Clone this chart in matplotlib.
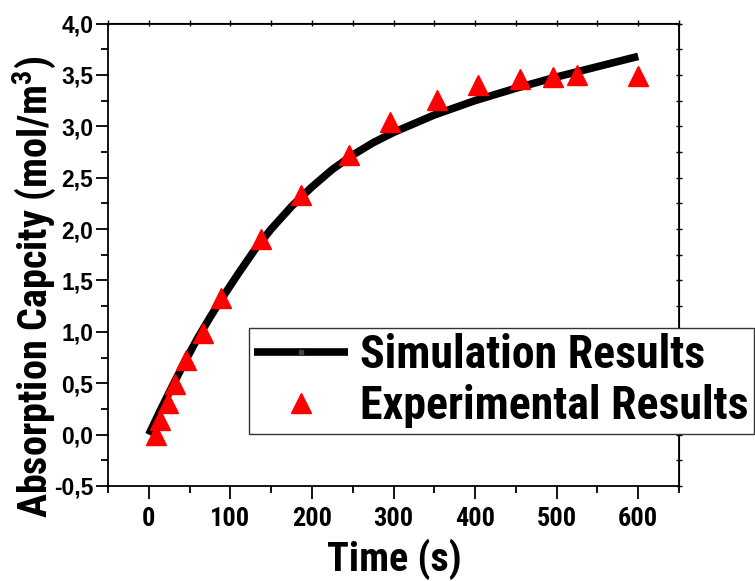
import matplotlib
matplotlib.use('Agg')
import matplotlib.pyplot as plt
from matplotlib.ticker import MultipleLocator, FuncFormatter, FixedLocator
from matplotlib.lines import Line2D

# ---- data ----
sim_t = [0, 15, 30, 45, 60, 75, 90, 110, 130, 150, 175, 200, 225, 250,
         275, 300, 350, 400, 450, 500, 550, 600]
sim_v = [0.00, 0.25, 0.49, 0.72, 0.94, 1.14, 1.33, 1.57, 1.80, 2.00, 2.22,
         2.41, 2.58, 2.72, 2.84, 2.94, 3.11, 3.25, 3.37, 3.48, 3.58, 3.68]

exp_t = [8.6, 14.3, 23.3, 31.9, 46, 66, 89, 137, 186, 245, 296, 353, 404,
         455, 495, 525, 600]
exp_v = [0.00, 0.14, 0.31, 0.49, 0.73, 0.99, 1.33, 1.90, 2.33, 2.72, 3.04,
         3.26, 3.40, 3.46, 3.48, 3.50, 3.49]

x_ticks = [0, 100, 200, 300, 400, 500, 600]
y_ticks = [-0.5, 0.0, 0.5, 1.0, 1.5, 2.0, 2.5, 3.0, 3.5, 4.0]

sim_label = "Simulation Results"
exp_label = "Experimental Results"
x_label = "Time (s)"
y_label = "Absorption Capcity (mol/m$^3$)"

# ---- style ----
FAM = ['Roboto Condensed', 'Liberation Sans', 'DejaVu Sans']
plt.rcParams['font.family'] = FAM
plt.rcParams['font.weight'] = 'bold'
plt.rcParams['mathtext.default'] = 'regular'

W, H = 755, 581
fig = plt.figure(figsize=(W / 100, H / 100), dpi=100)
L, R, T, B = 108, 679, 23.5, 486
ax = fig.add_axes([L / W, 1 - B / H, (R - L) / W, (B - T) / H])

ax.plot(sim_t, sim_v, color='black', lw=5.5, solid_capstyle='butt',
        solid_joinstyle='round', zorder=3)
ax.plot(exp_t, exp_v, linestyle='none', marker='^', ms=15, color='#ff0000',
        mec='#ff0000', zorder=4)

ax.set_xlim(-50, 650)
ax.set_ylim(-0.5, 4.0)
ax.xaxis.set_major_locator(FixedLocator(x_ticks))
ax.xaxis.set_minor_locator(MultipleLocator(50))
ax.yaxis.set_major_locator(FixedLocator(y_ticks))
ax.yaxis.set_minor_locator(MultipleLocator(0.25))
ax.yaxis.set_major_formatter(FuncFormatter(lambda v, p: f"{v:.1f}".replace('.', ',')))
ax.xaxis.set_major_formatter(FuncFormatter(lambda v, p: f"{v:.0f}"))

for s in ax.spines.values():
    s.set_linewidth(1.3)

ax.tick_params(which='major', direction='out', length=9, width=1.3,
               top=False, right=False)
ax.tick_params(which='minor', direction='out', length=5, width=1.3,
               top=False, right=False)
ax.tick_params(axis='x', which='major', labelsize=19, pad=6)
ax.tick_params(axis='y', which='major', labelsize=16.5, pad=1.5,
               labelfontfamily='Liberation Sans')

# top / right small ticks
sx = ax.secondary_xaxis('top')
sx.xaxis.set_major_locator(MultipleLocator(50))
sx.tick_params(direction='inout', length=5, width=1.0, labeltop=False)
sy = ax.secondary_yaxis('right')
sy.yaxis.set_major_locator(MultipleLocator(0.25))
sy.tick_params(direction='inout', length=5, width=1.0, labelright=False)

fig.text(394 / W, 1 - 571 / H, x_label, ha='center', va='baseline',
         fontsize=29, fontweight='bold')
fig.text(34 / W, 1 - 287 / H, y_label, ha='center', va='center',
         rotation=90, fontsize=29, fontweight='bold')

h_sim = Line2D([], [], color='black', lw=5.5, marker='s', ms=3,
               mfc='#444444', mec='#444444', solid_capstyle='butt')
h_exp = Line2D([], [], linestyle='none', marker='^', ms=15, color='#ff0000')
leg = ax.legend([h_sim, h_exp], [sim_label, exp_label],
                loc='upper left', bbox_to_anchor=(249 / W, 1 - 328 / H),
                bbox_transform=fig.transFigure, fontsize=33,
                handlelength=2.05, handletextpad=0.25, labelspacing=0.15,
                borderpad=0.12, borderaxespad=0, fancybox=False,
                framealpha=1, edgecolor='#333333')
leg.get_frame().set_linewidth(1.0)
leg.set_zorder(10)

fig.savefig('out.png', dpi=100)
